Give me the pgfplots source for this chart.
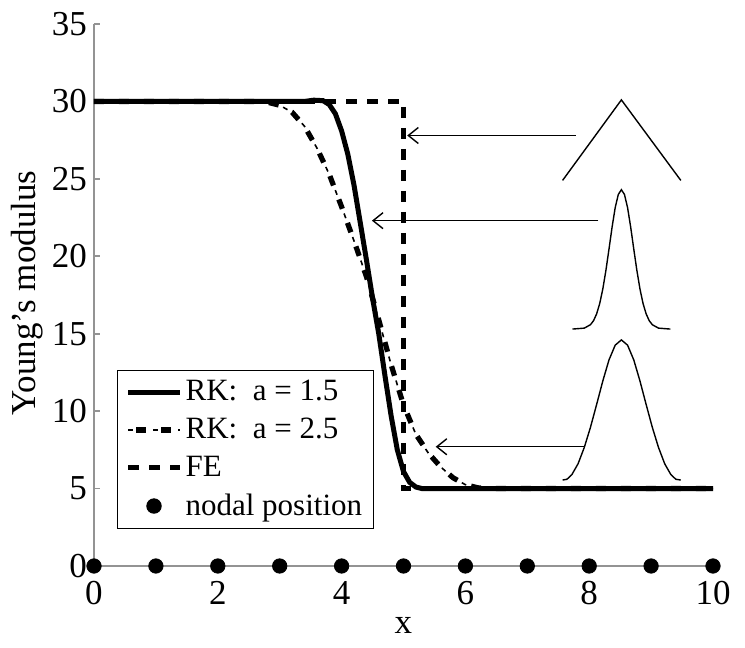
\documentclass[border=0pt]{standalone}
\usepackage{fontspec}
\setmainfont{Liberation Serif}
\usepackage{pgfplots}
\usepackage{pgfplotstable}
\pgfplotsset{compat=1.18}
\usetikzlibrary{arrows.meta}

% RK, support size a = 1.5
\pgfplotstableread{
x y
0 30
3.4 30
3.55 30.08
3.7 30.05
3.8 29.8
3.9 29.2
4.0 28.1
4.1 26.6
4.2 24.6
4.3 22.2
4.4 19.8
4.5 17.3
4.6 15.0
4.7 12.3
4.8 9.7
4.9 7.5
5.0 6.1
5.1 5.4
5.2 5.1
5.3 5.0
10 5
}\rkonedata

% RK, support size a = 2.5
\pgfplotstableread{
x y
0 30
2.6 30
2.8 29.95
3.0 29.75
3.2 29.3
3.4 28.4
3.6 27.0
3.8 25.3
4.0 23.2
4.2 21.0
4.4 18.7
4.6 15.9
4.8 13.0
5.0 10.4
5.2 8.5
5.4 7.3
5.6 6.4
5.8 5.7
6.0 5.25
6.2 5.05
6.4 5.0
10 5
}\rktwodata

% FE step
\pgfplotstableread{
x y
0 30
5 30
5 5
10 5
}\fedata

% kernel sketches (insets)
\pgfplotstableread{
x y
7.57 24.9
8.52 30.1
9.48 24.9
}\hatdata

\pgfplotstableread{
x y
7.73 15.3
7.92 15.36
8.02 15.58
8.07 15.84
8.12 16.28
8.17 16.95
8.22 17.89
8.27 19.09
8.32 20.47
8.37 21.89
8.42 23.14
8.47 23.99
8.52 24.3
8.57 23.99
8.62 23.14
8.67 21.89
8.72 20.47
8.77 19.09
8.82 17.89
8.87 16.95
8.92 16.28
8.97 15.84
9.02 15.58
9.12 15.36
9.31 15.3
}\kernonedata

\pgfplotstableread{
x y
7.57 5.55
7.64 5.6
7.72 5.9
7.82 6.6
7.92 7.65
8.02 8.95
8.12 10.43
8.22 11.95
8.32 13.31
8.42 14.26
8.52 14.6
8.62 14.26
8.72 13.31
8.82 11.95
8.92 10.43
9.02 8.95
9.12 7.65
9.22 6.6
9.32 5.9
9.40 5.6
9.48 5.55
}\kerntwodata

\tikzset{
  ddthick/.style={line width=2.6pt, dash pattern=on 5pt off 7.5pt},
  ddthin/.style={line width=0.8pt, dash pattern=on 2.5pt off 10pt, dash phase=5pt},
}
\pgfplotsset{
  ddlegend/.style={legend image code/.code={
    \draw[black, ddthick, dash phase=-4pt] (0pt,0pt) -- (26pt,0pt);
    \draw[black, ddthin, dash phase=0pt] (0pt,0pt) -- (26pt,0pt);}},
}

\begin{document}
\begin{tikzpicture}
\begin{axis}[
  scale only axis,
  width=309.5pt, height=271pt,
  xmin=0, xmax=10, ymin=0, ymax=35,
  xtick={0,2,...,10}, ytick={0,5,...,35},
  axis lines=left,
  axis line style={-, draw=gray!85, line width=0.8pt},
  tick style={draw=gray!85, line width=0.8pt},
  tick align=inside,
  major tick length=3pt,
  clip=false,
  /pgf/number format/assume math mode=true,
  tick label style={font=\fontsize{17.5}{20}\selectfont},
  xticklabel style={yshift=-4pt},
  label style={font=\fontsize{17.5}{20}\selectfont},
  xlabel={x},
  ylabel={Young’s modulus},
  xlabel style={at={(axis description cs:0.5,0)}, anchor=center, yshift=-29.5pt},
  ylabel style={at={(axis description cs:-0.108,0.504)}, anchor=center},
  legend image code/.code={\draw[mark repeat=2,mark phase=2] plot coordinates {(0pt,0pt)(13pt,0pt)(26pt,0pt)};},
  legend style={at={(0.037,0.362)}, anchor=north west, draw=black, line width=0.5pt,
    font=\fontsize{15.5}{18}\selectfont, row sep=3.2pt, inner xsep=4pt, inner ysep=3pt,
    nodes={inner xsep=1.5pt}},
  legend cell align=left,
]
\addplot[black, line width=2.5pt] table {\rkonedata};
\addlegendentry{RK:\ \ a = 1.5}
\addplot[black, ddthick, ddlegend] table {\rktwodata};
\addlegendentry{RK:\ \ a = 2.5}
\addplot[black, line width=2.3pt, dash pattern=on 5.5pt off 5pt] table {\fedata};
\addlegendentry{FE}
\addplot[black, only marks, mark=*, mark size=3.6pt] coordinates {
  (0,0) (1,0) (2,0) (3,0) (4,0) (5,0) (6,0) (7,0) (8,0) (9,0) (10,0)};
\addlegendentry{nodal position}

% thin dots of the dash-dot curve
\addplot[black, ddthin, forget plot] table {\rktwodata};

\addplot[black, line width=0.7pt, forget plot] table {\hatdata};
\addplot[black, line width=0.7pt, forget plot] table {\kernonedata};
\addplot[black, line width=0.7pt, forget plot] table {\kerntwodata};
\addplot[black, line width=0.7pt, -{Straight Barb[length=5pt,width=8pt]}, forget plot]
  coordinates {(7.78,27.8) (5.06,27.8)};
\addplot[black, line width=0.7pt, -{Straight Barb[length=5pt,width=8pt]}, forget plot]
  coordinates {(8.15,22.3) (4.49,22.3)};
\addplot[black, line width=0.7pt, -{Straight Barb[length=5pt,width=8pt]}, forget plot]
  coordinates {(7.94,7.7) (5.52,7.7)};
\coordinate (SW) at (rel axis cs:0,0);
\end{axis}
\pgfresetboundingbox
\path (SW) ++(-47pt,-41pt) rectangle ++(372.5pt,324pt);
\end{tikzpicture}
\end{document}
